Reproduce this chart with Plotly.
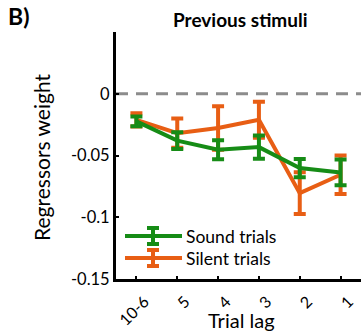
import plotly.graph_objects as go

lags = ["10-6", "5", "4", "3", "2", "1"]
sound_mean = [-0.0224, -0.0380, -0.0454, -0.0432, -0.0602, -0.0637]
sound_err = [0.0040, 0.0068, 0.0077, 0.0094, 0.0074, 0.0104]
silent_mean = [-0.0211, -0.0319, -0.0278, -0.0211, -0.0805, -0.0656]
silent_err = [0.0054, 0.0119, 0.0176, 0.0146, 0.0169, 0.0155]
y_ticks = [0, -0.05, -0.1, -0.15]
y_tick_text = ["0", "-0.05", "-0.1", "-0.15"]
series_names = ["Sound trials", "Silent trials"]

GREEN = "rgb(22,140,22)"
ORANGE = "rgb(232,94,20)"
FONT = "Lato"

W, H = 361, 331
ML, MR, MT, MB = 116, 0, 32, 52
PW, PH = W - ML - MR, H - MT - MB

def px_x(p):  # pixel -> paper x
    return (p - ML) / PW

def px_y(p):  # pixel -> paper y
    return (H - MB - p) / PH

xpos = list(range(1, len(lags) + 1))

fig = go.Figure()
fig.add_trace(go.Scatter(
    x=xpos, y=silent_mean, mode="lines", name=series_names[1],
    line=dict(color=ORANGE, width=4), showlegend=False,
    error_y=dict(type="data", array=silent_err, color=ORANGE, thickness=4, width=6),
))
fig.add_trace(go.Scatter(
    x=xpos, y=sound_mean, mode="lines", name=series_names[0],
    line=dict(color=GREEN, width=4), showlegend=False,
    error_y=dict(type="data", array=sound_err, color=GREEN, thickness=4, width=6),
))

fig.add_shape(type="line", xref="paper", yref="y", x0=0, x1=1, y0=0, y1=0,
              line=dict(color="rgb(140,140,140)", width=3, dash="12px,8px"), layer="below")

# manual legend (line with error-bar glyph)
annotations = []
for name, col, yc in [(series_names[0], GREEN, 236), (series_names[1], ORANGE, 258)]:
    fig.add_shape(type="line", xref="paper", yref="paper",
                  x0=px_x(125), x1=px_x(182), y0=px_y(yc), y1=px_y(yc),
                  line=dict(color=col, width=4))
    fig.add_shape(type="line", xref="paper", yref="paper",
                  x0=px_x(153), x1=px_x(153), y0=px_y(yc - 8), y1=px_y(yc + 8),
                  line=dict(color=col, width=4))
    for dy in (-8, 8):
        fig.add_shape(type="line", xref="paper", yref="paper",
                      x0=px_x(147), x1=px_x(159), y0=px_y(yc + dy), y1=px_y(yc + dy),
                      line=dict(color=col, width=4))
    annotations.append(dict(text=name, xref="paper", yref="paper", x=px_x(184), y=px_y(yc),
                            xanchor="left", yanchor="middle", showarrow=False,
                            font=dict(size=17.5)))

annotations += [
    dict(text="<b>Previous stimuli</b>", xref="paper", yref="paper", x=px_x(240), y=px_y(20),
         xanchor="center", yanchor="middle", showarrow=False, font=dict(size=19)),
    dict(text="<b>B)</b>", xref="paper", yref="paper", x=px_x(6), y=px_y(16),
         xanchor="left", yanchor="middle", showarrow=False, font=dict(size=23)),
    dict(text="Trial lag", xref="paper", yref="paper", x=px_x(241), y=px_y(320),
         xanchor="center", yanchor="middle", showarrow=False, font=dict(size=20)),
    dict(text="Regressors weight", xref="paper", yref="paper", x=px_x(41), y=px_y(158),
         xanchor="center", yanchor="middle", showarrow=False, textangle=-90,
         font=dict(size=21)),
]

fig.update_layout(
    width=W, height=H,
    margin=dict(l=ML, r=MR, t=MT, b=MB, autoexpand=False),
    paper_bgcolor="white", plot_bgcolor="white",
    font=dict(family=FONT, size=20, color="black"),
    showlegend=False,
    xaxis=dict(range=[0.5, 6.5], tickmode="array", tickvals=xpos, ticktext=lags,
               tickangle=-45, showline=True, linecolor="black", linewidth=3,
               ticks="inside", ticklen=3, tickwidth=2, tickcolor="black",
               showgrid=False, zeroline=False, automargin=False,
               ticklabelshift=8, ticklabelstandoff=4,
               tickfont=dict(size=16)),
    yaxis=dict(range=[-0.15, 0.05], tickmode="array", tickvals=y_ticks, ticktext=y_tick_text,
               showline=True, linecolor="black", linewidth=3,
               ticks="inside", ticklen=3, tickwidth=2, tickcolor="black",
               showgrid=False, zeroline=False, automargin=False,
               tickfont=dict(size=16.5)),
    annotations=annotations,
)

fig.write_html("out.html")
